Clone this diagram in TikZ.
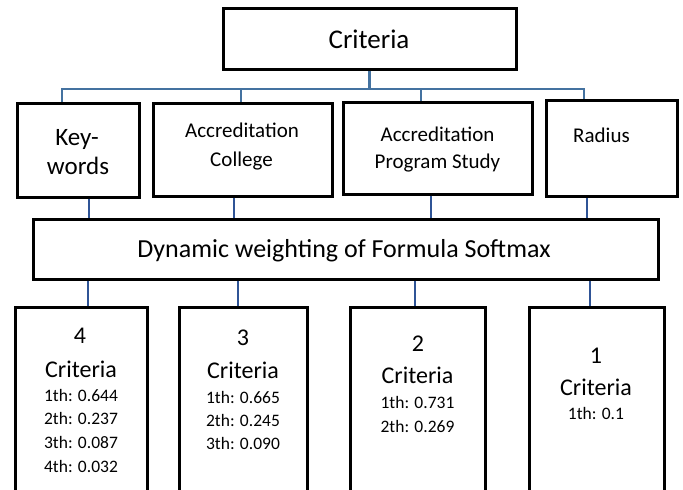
\documentclass[tikz,border=0pt]{standalone}
\usepackage{fontspec}
\setmainfont{Carlito}
\definecolor{linkUpper}{RGB}{68,114,160}
\definecolor{linkLower}{RGB}{47,84,150}

\begin{document}
\begin{tikzpicture}
[x=1pt,y=-1pt,
 boxDecorate/.style={shape=rectangle,draw,line width=3pt,inner sep=0pt},
 upperLine/.style={-,draw=linkUpper,line width=2.6pt},
 lowerLine/.style={-,draw=linkLower,line width=2.8pt},
 textDecorate/.style={anchor=base,inner sep=0pt}]
\useasboundingbox (0,0) rectangle (683,490);
\clip (0,0) rectangle (683,490);
%% boxes
\node (crit) at (369.5,38.5) [boxDecorate,minimum width=293pt,minimum height=61pt] {};
\foreach \nodename/\x/\y/\w/\h in {kw/78/150/122/94, ac/242.5/149.5/179/93, ap/437.5/148/189/92, rd/611.5/148/131/96}
{
  \node (\nodename) at (\x,\y) [boxDecorate,minimum width=\w pt,minimum height=\h pt] {};
}
\node (dyn) at (345.5,249) [boxDecorate,minimum width=625pt,minimum height=60pt] {};
\foreach \nodename/\x/\w in {c4/81/132, c3/243/128, c2/418/135, c1/596.5/135}
{
  \node (\nodename) at (\x,414) [boxDecorate,minimum width=\w pt,minimum height=214pt] {};
}
%% texts
\node (critText) at (369,48) [textDecorate,font=\fontsize{27}{30}\selectfont] {Criteria};
\foreach \nodename/\x/\y/\s/\txt in {kwA/77/145/25/Key-, kwB/78/174/25/words,
  acA/242/137/21/Accreditation, acB/241.5/166/21/College,
  apA/437.5/141/21/Accreditation, apB/437.5/168/21/Program Study,
  rdA/601.5/142/21/Radius, dynText/344/257/26/Dynamic weighting of Formula Softmax}
{
  \node (\nodename) at (\x,\y) [textDecorate,font=\fontsize{\s}{\s}\selectfont] {\txt};
}
\foreach \nodename/\x/\y/\s/\txt in {c4A/80/343/24/4, c4B/81/377/24/Criteria,
  c4C/81/401/17.5/1th: 0.644, c4D/81/424.5/17.5/2th: 0.237, c4E/81/448/17.5/3th: 0.087, c4F/81/472/17.5/4th: 0.032,
  c3A/243/345/24/3, c3B/243/378/24/Criteria,
  c3C/243/403/17.5/1th: 0.665, c3D/243/426/17.5/2th: 0.245, c3E/243/449/17.5/3th: 0.090,
  c2A/418/351/24/2, c2B/417.5/383/24/Criteria,
  c2C/417.5/408/17.5/1th: 0.731, c2D/417.5/432/17.5/2th: 0.269,
  c1A/596/363/24/1, c1B/596/395/24/Criteria, c1C/596/419/17.5/1th: 0.1}
{
  \node (\nodename) at (\x,\y) [textDecorate,font=\fontsize{\s}{\s}\selectfont] {\txt};
}
%% lines
\coordinate (bus) at (crit.south |- 0,89);
\draw[upperLine] (crit.south) -- (bus);
\draw[upperLine,line cap=rect] (bus -| 62,0) -- (bus -| 584,0);
\foreach \nodename/\x in {kw/62, ac/241, ap/421, rd/584}
{
  \draw[upperLine] (bus -| \x,0) -- (\nodename.north -| \x,0);
}
\foreach \nodename/\x in {kw/89, ac/234, ap/431, rd/587}
{
  \draw[lowerLine] (\nodename.south -| \x,0) -- (dyn.north -| \x,0);
}
\foreach \nodename/\x in {c4/88, c3/238, c2/415, c1/590}
{
  \draw[lowerLine] (dyn.south -| \x,0) -- (\nodename.north -| \x,0);
}
\end{tikzpicture}
\end{document}
